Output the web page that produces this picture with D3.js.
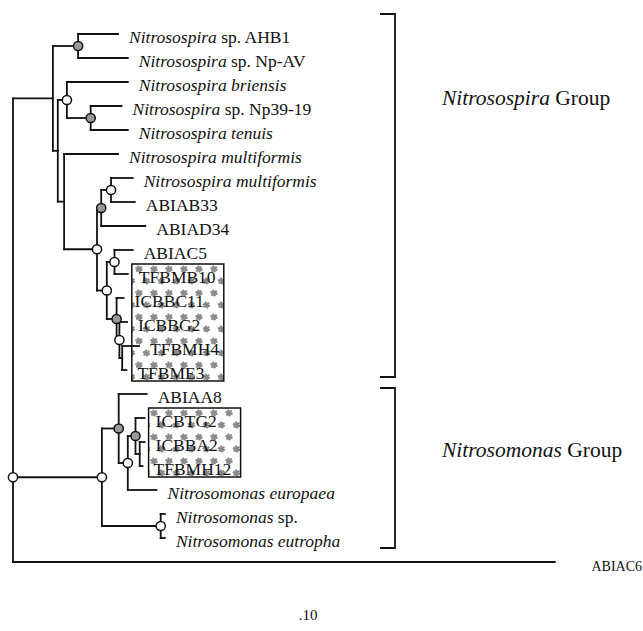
<!DOCTYPE html>
<html>
<head>
<meta charset="utf-8">
<script src="https://cdn.jsdelivr.net/npm/d3@7"></script>
<style>
  html, body { margin: 0; background: #fff; }
  svg { display: block; }
</style>
</head>
<body>
<svg id="tree" width="643" height="631"></svg>
<script>
// Leaves, top to bottom ("#n" suffix only separates duplicate names)
const taxa = [
  "Nitrosospira sp. AHB1",
  "Nitrosospira sp. Np-AV",
  "Nitrosospira briensis",
  "Nitrosospira sp. Np39-19",
  "Nitrosospira tenuis",
  "Nitrosospira multiformis#1",
  "Nitrosospira multiformis#2",
  "ABIAB33",
  "ABIAD34",
  "ABIAC5",
  "TFBMB10",
  "ICBBC11",
  "ICBBG2",
  "TFBMH4",
  "TFBME3",
  "ABIAA8",
  "ICBTG2",
  "ICBBA2",
  "TFBMH12",
  "Nitrosomonas europaea",
  "Nitrosomonas sp.",
  "Nitrosomonas eutropha",
  "ABIAC6"
];

// Tree edges: [node, parent, branch length in substitutions per site], in drawing order
const edges = [
  ["root", "", 0],
  ["N2", "root", 0.057],
  ["Na", "N2", 0.036],
  ["Nitrosospira sp. AHB1", "Na", 0.057],
  ["Nitrosospira sp. Np-AV", "Na", 0.071],
  ["N3", "N2", 0.007],
  ["Nb", "N3", 0.013],
  ["Nitrosospira briensis", "Nb", 0.087],
  ["Nc", "Nb", 0.034],
  ["Nitrosospira sp. Np39-19", "Nc", 0.044],
  ["Nitrosospira tenuis", "Nc", 0.053],
  ["N4", "N3", 0.009],
  ["Nitrosospira multiformis#1", "N4", 0.077],
  ["N5", "N4", 0.047],
  ["N6", "N5", 0.006],
  ["N7", "N6", 0.014],
  ["Nitrosospira multiformis#2", "N7", 0.031],
  ["ABIAB33", "N7", 0.034],
  ["ABIAD34", "N6", 0.063],
  ["N8", "N5", 0.014],
  ["N9", "N8", 0.011],
  ["ABIAC5", "N9", 0.026],
  ["TFBMB10", "N9", 0.019],
  ["N10", "N8", 0.014],
  ["ICBBC11", "N10", 0.010],
  ["N11", "N10", 0.004],
  ["ICBBG2", "N11", 0.011],
  ["N12", "N11", 0.004],
  ["TFBMH4", "N12", 0.024],
  ["TFBME3", "N12", 0.006],
  ["E", "root", 0.127],
  ["A", "E", 0.024],
  ["ABIAA8", "A", 0.040],
  ["B", "A", 0.013],
  ["C", "B", 0.011],
  ["ICBTG2", "C", 0.013],
  ["D", "C", 0.006],
  ["ICBBA2", "D", 0.007],
  ["TFBMH12", "D", 0.004],
  ["Nitrosomonas europaea", "B", 0.041],
  ["F", "E", 0.084],
  ["Nitrosomonas sp.", "F", 0.006],
  ["Nitrosomonas eutropha", "F", 0.006],
  ["ABIAC6", "root", 0.774]
];

// Bootstrap support marks on nodes
const supportHigh = ["Na", "Nc", "N6", "N10", "A", "C"];          // shaded circles
const supportLow = ["Nb", "N7", "N5", "N9", "N8", "N11", "B", "E", "F"]; // open circles
const stemSupport = ["E"];                                        // open circle at base of branch

// Environmental clones marked with a stippled box: [first leaf, last leaf]
const boxedRuns = [["TFBMB10", "TFBME3"], ["ICBTG2", "TFBMH12"]];

// Clade brackets: [genus, first leaf, last leaf]
const groups = [
  ["Nitrosospira", "Nitrosospira sp. AHB1", "TFBME3"],
  ["Nitrosomonas", "ABIAA8", "Nitrosomonas eutropha"]
];

const scaleLabel = ".10";

// ---- layout constants ----
const W = 643, H = 631;
const FONT = "'Liberation Serif', 'Times New Roman', Times, serif";
const ink = "#111";
const lineW = 1.8;
const groupLayout = [
  { padTop: 20, padBottom: 7, labelDy: 91 },
  { padTop: 6, padBottom: 10, labelDy: 69 }
];

const svg = d3.select("#tree");

// pattern of grey speckles used inside the clone boxes (staggered rows)
const defs = svg.append("defs");
const pat = defs.append("pattern")
  .attr("id", "stipple")
  .attr("patternUnits", "userSpaceOnUse")
  .attr("width", 15).attr("height", 24);
pat.append("rect").attr("width", 15).attr("height", 24).attr("fill", "#fff");
[[4, 5], [11.5, 17]].forEach(([cx, cy]) => {
  const g = pat.append("g").attr("fill", "#878787");
  g.append("circle").attr("cx", cx).attr("cy", cy).attr("r", 2.1);
  d3.range(6).forEach(k => {
    const a = k * Math.PI / 3 + 0.3;
    g.append("circle")
      .attr("cx", cx + Math.cos(a) * 2.6)
      .attr("cy", cy + Math.sin(a) * 2.4)
      .attr("r", 1.2);
  });
});

// ---- hierarchy ----
const root = d3.stratify()
  .id(d => d[0])
  .parentId(d => d[1] || null)(edges);

root.eachBefore(n => { n.dist = n.parent ? n.parent.dist + n.data[2] : 0; });

const x = d3.scaleLinear().domain([0, 0.1]).range([13, 83]);
const y = d3.scalePoint().domain(taxa).range([34, 562]);

root.eachAfter(n => {
  if (!n.children) n.py = y(n.id);
  else n.py = (n.children[0].py + n.children[n.children.length - 1].py) / 2;
});
const byId = new Map(root.descendants().map(n => [n.id, n]));

// ---- stippled boxes ----
const boxW = 92;
svg.append("g").selectAll("rect")
  .data(boxedRuns)
  .join("rect")
  .attr("x", d => x(byId.get(d[0]).dist) + 4)
  .attr("y", d => y(d[0]) - 10)
  .attr("width", boxW)
  .attr("height", d => y(d[1]) - y(d[0]) + 21)
  .attr("fill", "url(#stipple)")
  .attr("stroke", ink)
  .attr("stroke-width", 1.5);

// ---- branches ----
const branchG = svg.append("g")
  .attr("fill", "none")
  .attr("stroke", ink)
  .attr("stroke-width", lineW)
  .attr("stroke-linecap", "square");

branchG.selectAll("path.h")
  .data(root.descendants().filter(n => n.parent))
  .join("path")
  .attr("class", "h")
  .attr("d", n => `M${x(n.parent.dist)},${n.py}H${x(n.dist)}`);

branchG.selectAll("path.v")
  .data(root.descendants().filter(n => n.children))
  .join("path")
  .attr("class", "v")
  .attr("d", n => `M${x(n.dist)},${n.children[0].py}V${n.children[n.children.length - 1].py}`);

// ---- support circles ----
const marks = [
  ...supportHigh.map(id => ({ n: byId.get(id), fill: "#9a9a9a", stem: false })),
  ...supportLow.map(id => ({ n: byId.get(id), fill: "#fff", stem: false })),
  ...stemSupport.map(id => ({ n: byId.get(id), fill: "#fff", stem: true }))
];
svg.append("g").selectAll("circle")
  .data(marks)
  .join("circle")
  .attr("cx", d => x(d.stem ? d.n.parent.dist : d.n.dist))
  .attr("cy", d => d.n.py)
  .attr("r", 4.6)
  .attr("fill", d => d.fill)
  .attr("stroke", ink)
  .attr("stroke-width", 1.5);

// ---- leaf labels ----
function labelParts(id) {
  const name = id.replace(/#\d+$/, "");
  const m = name.match(/^(Nitroso\w+)(.*)$/);
  if (!m) return [["", name]];
  if (/\bsp\./.test(m[2])) return [[m[1], ""], ["", m[2]]];
  return [[name, ""]];
}
const outgroup = "ABIAC6";
const leaves = root.leaves();
const labels = svg.append("g")
  .attr("font-family", FONT)
  .attr("fill", ink)
  .selectAll("text")
  .data(leaves)
  .join("text")
  .attr("x", n => n.id === outgroup ? W - 1 : x(n.dist) + 11)
  .attr("y", n => n.py + 9)
  .attr("text-anchor", n => n.id === outgroup ? "end" : "start")
  .attr("font-size", n => n.id === outgroup ? 14 : 17.5);

labels.each(function (n) {
  const t = d3.select(this);
  labelParts(n.id).forEach(([it, rm]) => {
    if (it) t.append("tspan").attr("font-style", "italic").text(it);
    if (rm) t.append("tspan").text(rm);
  });
});

// ---- clade brackets ----
const bx = 395, tick = 15;
const brG = svg.append("g");
groups.forEach(([genus, first, last], i) => {
  const L = groupLayout[i];
  const top = y(first) - L.padTop;
  const bottom = y(last) + L.padBottom;
  brG.append("path")
    .attr("d", `M${bx - tick},${top}H${bx}V${bottom}H${bx - tick}`)
    .attr("fill", "none")
    .attr("stroke", ink)
    .attr("stroke-width", lineW);
  const t = brG.append("text")
    .attr("x", bx + 47)
    .attr("y", top + L.labelDy)
    .attr("font-family", FONT)
    .attr("font-size", 21.5)
    .attr("fill", ink);
  t.append("tspan").attr("font-style", "italic").text(genus);
  t.append("tspan").text(" Group");
});

// ---- distance scale label ----
svg.append("text")
  .attr("x", 308)
  .attr("y", 620)
  .attr("text-anchor", "middle")
  .attr("font-family", FONT)
  .attr("font-size", 15)
  .attr("fill", ink)
  .text(scaleLabel);
</script>
</body>
</html>
